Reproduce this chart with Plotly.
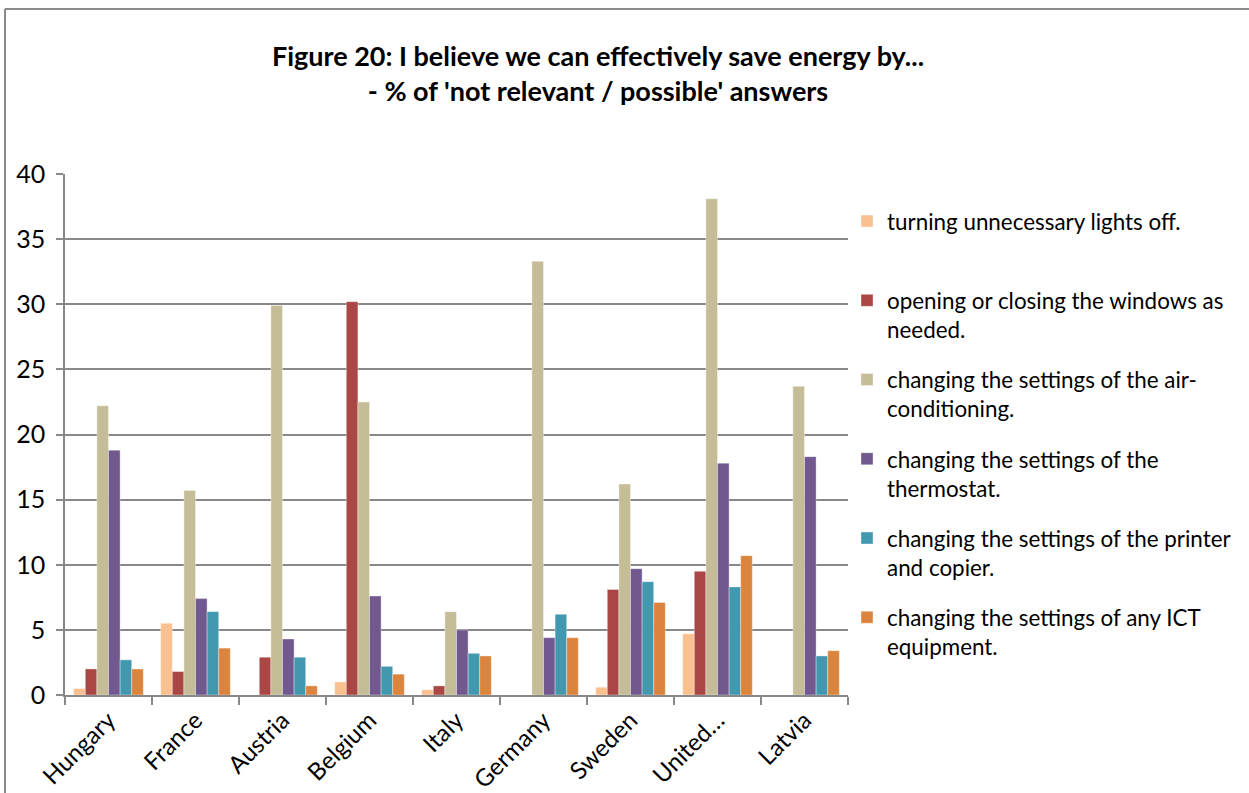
import plotly.graph_objects as go

# Countries (the long UK label is shown truncated, as in the source workbook)
countries = ["Hungary", "France", "Austria", "Belgium", "Italy",
             "Germany", "Sweden", "United…", "Latvia"]

# % of 'not relevant / possible' answers per measure
lights_off = [0.5, 5.5, 0.0, 1.0, 0.4, 0.0, 0.6, 4.7, 0.0]
windows = [2.0, 1.8, 2.9, 30.2, 0.7, 0.0, 8.1, 9.5, 0.0]
air_conditioning = [22.2, 15.7, 29.9, 22.5, 6.4, 33.3, 16.2, 38.1, 23.7]
thermostat = [18.8, 7.4, 4.3, 7.6, 5.0, 4.4, 9.7, 17.8, 18.3]
printer_copier = [2.7, 6.4, 2.9, 2.2, 3.2, 6.2, 8.7, 8.3, 3.0]
ict_equipment = [2.0, 3.6, 0.7, 1.6, 3.0, 4.4, 7.1, 10.7, 3.4]

series_names = [
    "turning unnecessary lights off.<br>&nbsp;",
    "opening or closing the windows as<br>needed.",
    "changing the settings of the air-<br>conditioning.",
    "changing the settings of the<br>thermostat.",
    "changing the settings of the printer<br>and copier.",
    "changing the settings of any ICT<br>equipment.",
]
series_values = [lights_off, windows, air_conditioning, thermostat,
                 printer_copier, ict_equipment]
series_colors = ["#FAC090", "#AA4643", "#C4BD97", "#71588F", "#4198AF", "#DB843D"]

FONT = "Lato, Carlito, Calibri, sans-serif"
GRID = "#888888"

fig = go.Figure()
for i, (name, vals, col) in enumerate(zip(series_names, series_values, series_colors)):
    fig.add_trace(go.Bar(
        x=countries, y=vals, name=name, legendgroup=f"g{i}",
        marker=dict(color=col, line=dict(color="rgba(255,255,255,0.6)", width=0.6)),
    ))

# plot area in pixels: x 65..848, y 174..695
W, H = 1249, 793
L, R, T, B = 65, 848, 174, 695
pw, ph = R - L, B - T

def px_x(p):
    return (p - L) / pw

def px_y(p):
    return (B - p) / ph

# outer chart frame (left and top edges)
fig.add_shape(type="line", xref="paper", yref="paper",
              x0=px_x(5), x1=px_x(1260), y0=px_y(9), y1=px_y(9),
              line=dict(color="#8a8a8a", width=2))
fig.add_shape(type="line", xref="paper", yref="paper",
              x0=px_x(5), x1=px_x(5), y0=px_y(9), y1=px_y(800),
              line=dict(color="#8a8a8a", width=2))

fig.update_layout(
    width=W, height=H,
    margin=dict(l=L, r=W - R, t=T, b=H - B, autoexpand=False),
    paper_bgcolor="white", plot_bgcolor="white",
    barmode="group", bargap=0.2, bargroupgap=0,
    font=dict(family=FONT, size=22, color="#000000"),
    title=dict(
        text="<b>Figure 20: I believe we can effectively save energy by...<br>- % of 'not relevant / possible' answers</b>",
        x=598 / W, xanchor="center", xref="container",
        y=1 - 66 / H, yanchor="top", yref="container",
        font=dict(family=FONT, size=27, color="#000000"),
    ),
    legend=dict(
        x=px_x(847), xanchor="left", y=px_y(200), yanchor="top",
        font=dict(family=FONT, size=22.4, color="#000000"),
        tracegroupgap=18, valign="top", bgcolor="rgba(0,0,0,0)",
        itemclick=False, itemdoubleclick=False,
    ),
    showlegend=True,
)

fig.update_xaxes(
    type="category", tickson="boundaries", ticks="outside", ticklen=8,
    tickcolor=GRID, tickwidth=1.5, showline=True, linecolor=GRID, linewidth=1.5,
    showgrid=False, tickangle=-45, tickfont=dict(family=FONT, size=24),
)
fig.update_yaxes(
    range=[0, 40], dtick=5, ticks="outside", ticklen=7, tickcolor=GRID, tickwidth=1.5,
    showline=True, linecolor=GRID, linewidth=1.5,
    showgrid=True, gridcolor=GRID, gridwidth=1.5, zeroline=False,
    tickfont=dict(family=FONT, size=25), ticklabelstandoff=6,
)

fig.write_html("out.html")
